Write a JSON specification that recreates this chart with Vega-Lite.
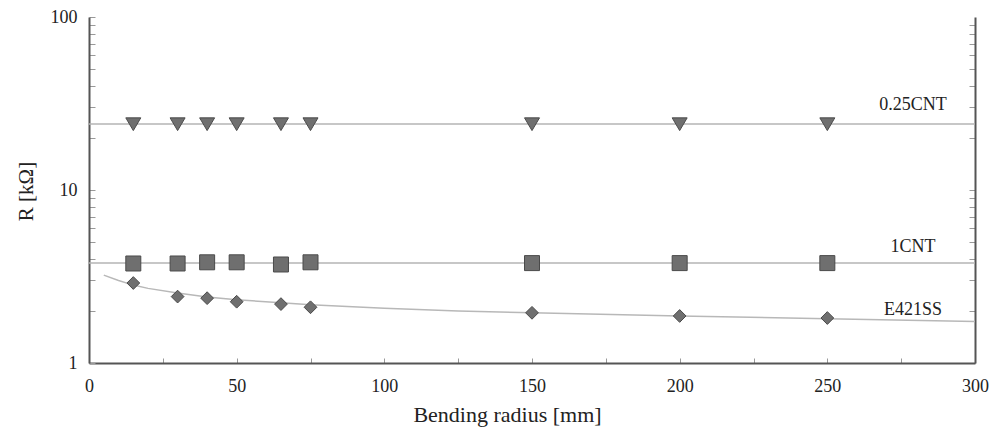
{
  "$schema": "https://vega.github.io/schema/vega-lite/v6.json",
  "width": 886,
  "height": 346,
  "autosize": {"type": "none"},
  "padding": {"left": 89, "top": 17, "right": 28, "bottom": 66},
  "background": "white",
  "config": {
    "view": {"stroke": null},
    "font": "Liberation Serif",
    "axis": {
      "labelFont": "Liberation Serif",
      "titleFont": "Liberation Serif",
      "labelColor": "#222222",
      "titleColor": "#222222",
      "titleFontWeight": "normal",
      "grid": false,
      "domainColor": "#555555",
      "domainWidth": 2,
      "tickColor": "#999999",
      "tickWidth": 1
    }
  },
  "datasets": {
    "fits": [
      {"series": "0.25CNT", "R": 24.1},
      {"series": "1CNT", "R": 3.78}
    ],
    "curve": [
      {"radius": 5, "R": 3.22},
      {"radius": 10, "R": 3.0},
      {"radius": 15, "R": 2.82},
      {"radius": 20, "R": 2.7},
      {"radius": 30, "R": 2.54},
      {"radius": 40, "R": 2.41},
      {"radius": 50, "R": 2.32},
      {"radius": 65, "R": 2.23},
      {"radius": 75, "R": 2.17},
      {"radius": 100, "R": 2.07},
      {"radius": 125, "R": 2.0},
      {"radius": 150, "R": 1.95},
      {"radius": 200, "R": 1.87},
      {"radius": 250, "R": 1.8},
      {"radius": 300, "R": 1.74}
    ],
    "points": [
      {"series": "0.25CNT", "radius": 15, "R": 24.0},
      {"series": "0.25CNT", "radius": 30, "R": 24.0},
      {"series": "0.25CNT", "radius": 40, "R": 24.0},
      {"series": "0.25CNT", "radius": 50, "R": 24.0},
      {"series": "0.25CNT", "radius": 65, "R": 24.0},
      {"series": "0.25CNT", "radius": 75, "R": 24.0},
      {"series": "0.25CNT", "radius": 150, "R": 24.0},
      {"series": "0.25CNT", "radius": 200, "R": 24.0},
      {"series": "0.25CNT", "radius": 250, "R": 24.0},
      {"series": "1CNT", "radius": 15, "R": 3.76},
      {"series": "1CNT", "radius": 30, "R": 3.76},
      {"series": "1CNT", "radius": 40, "R": 3.82},
      {"series": "1CNT", "radius": 50, "R": 3.82},
      {"series": "1CNT", "radius": 65, "R": 3.71},
      {"series": "1CNT", "radius": 75, "R": 3.82},
      {"series": "1CNT", "radius": 150, "R": 3.78},
      {"series": "1CNT", "radius": 200, "R": 3.78},
      {"series": "1CNT", "radius": 250, "R": 3.78},
      {"series": "E421SS", "radius": 15, "R": 2.9},
      {"series": "E421SS", "radius": 30, "R": 2.42},
      {"series": "E421SS", "radius": 40, "R": 2.37},
      {"series": "E421SS", "radius": 50, "R": 2.26},
      {"series": "E421SS", "radius": 65, "R": 2.19},
      {"series": "E421SS", "radius": 75, "R": 2.1},
      {"series": "E421SS", "radius": 150, "R": 1.95},
      {"series": "E421SS", "radius": 200, "R": 1.87},
      {"series": "E421SS", "radius": 250, "R": 1.82}
    ],
    "labels": [
      {"label": "0.25CNT", "radius": 279, "R": 31.0},
      {"label": "1CNT", "radius": 279, "R": 4.68},
      {"label": "E421SS", "radius": 279, "R": 2.02}
    ]
  },
  "layer": [
    {
      "data": {"name": "fits"},
      "mark": {"type": "rule", "color": "#b4b4b4", "strokeWidth": 1.5},
      "encoding": {
        "y": {
          "field": "R",
          "type": "quantitative",
          "scale": {"type": "log", "domain": [1, 100]},
          "axis": {
            "orient": "left",
            "values": [1, 2, 3, 4, 5, 6, 7, 8, 9, 10, 20, 30, 40, 50, 60, 70, 80, 90, 100],
            "labelExpr": "indexof([1, 10, 100], datum.value) >= 0 ? datum.label : ''",
            "labelFontSize": 18,
            "tickSize": -6,
            "labelPadding": 18,
            "title": "R [kΩ]",
            "titleFontSize": 21,
            "titleAngle": -90,
            "titleAlign": "center",
            "titleBaseline": "middle",
            "titleX": -63,
            "titleY": 174
          }
        }
      }
    },
    {
      "data": {"name": "curve"},
      "mark": {"type": "line", "color": "#b8b8b8", "strokeWidth": 1.5},
      "encoding": {
        "x": {
          "field": "radius",
          "type": "quantitative",
          "scale": {"domain": [0, 300]},
          "axis": {
            "orient": "bottom",
            "values": [0, 25, 50, 75, 100, 125, 150, 175, 200, 225, 250, 275, 300],
            "labelExpr": "datum.value % 50 == 0 ? datum.label : ''",
            "labelFlush": false,
            "labelFontSize": 18,
            "tickSize": -5,
            "labelPadding": 19,
            "title": "Bending radius [mm]",
            "titleFontSize": 22,
            "titleX": 418,
            "titleY": 58,
            "titleAlign": "center",
            "titleBaseline": "alphabetic"
          }
        },
        "y": {"field": "R", "type": "quantitative", "scale": {"type": "log", "domain": [1, 100]}, "axis": null}
      }
    },
    {
      "data": {"name": "points"},
      "mark": {"type": "point", "filled": true, "opacity": 1, "size": 225, "fill": "#6f6f6f", "stroke": "#4a4a4a", "strokeWidth": 1},
      "encoding": {
        "x": {"field": "radius", "type": "quantitative", "scale": {"domain": [0, 300]}},
        "y": {
          "field": "R",
          "type": "quantitative",
          "scale": {"type": "log", "domain": [1, 100]},
          "axis": {
            "orient": "right",
            "values": [2, 3, 4, 5, 6, 7, 8, 9, 10, 20, 30, 40, 50, 60, 70, 80, 90],
            "labels": false,
            "tickSize": -6,
            "title": null
          }
        },
        "shape": {
          "field": "series",
          "type": "nominal",
          "scale": {
            "domain": ["0.25CNT", "1CNT", "E421SS"],
            "range": ["M-1,-0.85L1,-0.85L0,0.85Z", "M-1,-1H1V1H-1Z", "M0,-0.85L0.85,0L0,0.85L-0.85,0Z"]
          },
          "legend": null
        }
      }
    },
    {
      "data": {"name": "labels"},
      "mark": {"type": "text", "font": "Liberation Serif", "fontSize": 18, "color": "#222222", "align": "center", "baseline": "middle"},
      "encoding": {
        "x": {"field": "radius", "type": "quantitative", "scale": {"domain": [0, 300]}},
        "y": {"field": "R", "type": "quantitative", "scale": {"type": "log", "domain": [1, 100]}, "axis": null},
        "text": {"field": "label"}
      }
    }
  ],
  "resolve": {"axis": {"y": "independent"}}
}
